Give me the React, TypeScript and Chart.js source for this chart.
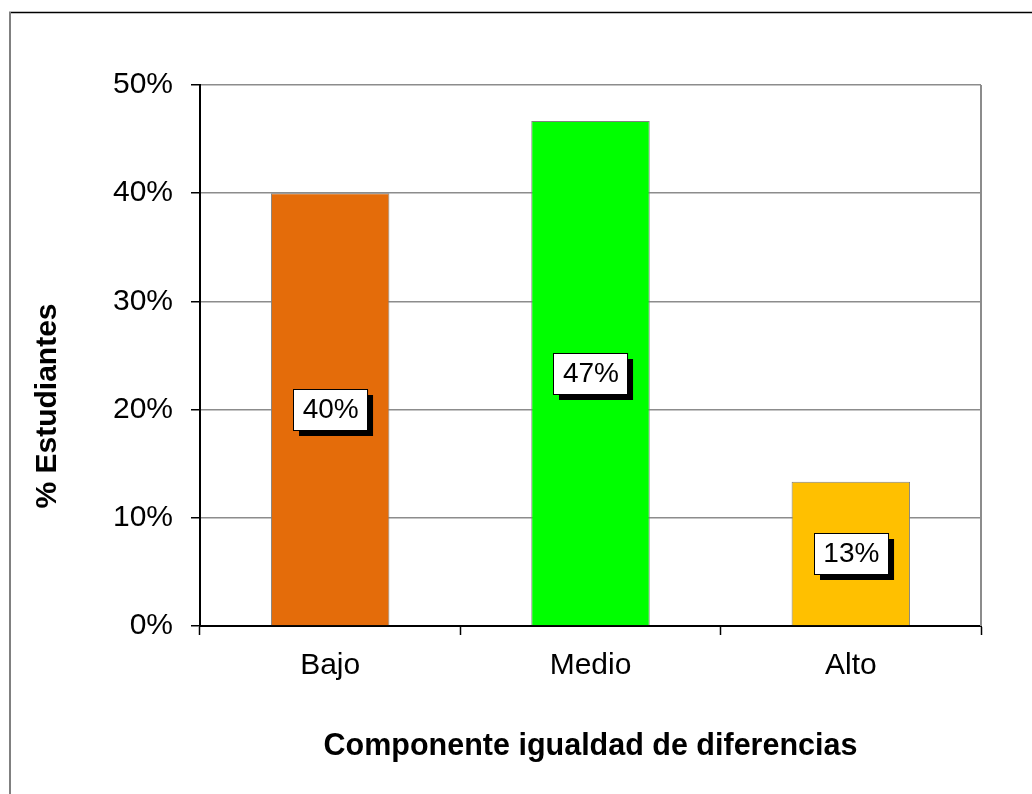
import React, { useEffect, useRef } from "react";
import { Chart, registerables } from "chart.js";

Chart.register(...registerables);

const categories = ["Bajo", "Medio", "Alto"];
const values = [0.4, 0.4667, 0.1333];
const barColors = ["#E46C0A", "#00FF00", "#FFC000"];
const yTicks = [0, 0.1, 0.2, 0.3, 0.4, 0.5];
const xTitle = "Componente igualdad de diferencias";
const yTitle = "% Estudiantes";

const FONT = "'Liberation Sans', Arial, sans-serif";

const framePlugin = {
  id: "frame",
  afterDraw(chart: any) {
    const ctx = chart.ctx;
    const a = chart.chartArea;
    ctx.save();
    // outer frame
    ctx.strokeStyle = "#000";
    ctx.lineWidth = 1.5;
    ctx.beginPath();
    ctx.moveTo(9, 12.5);
    ctx.lineTo(1032, 12.5);
    ctx.stroke();
    ctx.strokeStyle = "#808080";
    ctx.lineWidth = 2;
    ctx.beginPath();
    ctx.moveTo(10, 12);
    ctx.lineTo(10, 794);
    ctx.stroke();
    // right plot border
    ctx.strokeStyle = "#8c8c8c";
    ctx.lineWidth = 2;
    ctx.beginPath();
    ctx.moveTo(a.right, a.top);
    ctx.lineTo(a.right, a.bottom);
    ctx.stroke();
    // y axis title, centred on the whole chart frame
    ctx.translate(48, 406);
    ctx.rotate(-Math.PI / 2);
    ctx.font = `bold 30px ${FONT}`;
    ctx.fillStyle = "#000";
    ctx.textAlign = "center";
    ctx.textBaseline = "middle";
    ctx.fillText(yTitle, 0, 0);
    ctx.restore();
  },
};

const labelPlugin = {
  id: "boxLabels",
  afterDatasetsDraw(chart: any) {
    const ctx = chart.ctx;
    const meta = chart.getDatasetMeta(0);
    ctx.save();
    ctx.font = `28px ${FONT}`;
    ctx.textAlign = "center";
    ctx.textBaseline = "middle";
    meta.data.forEach((bar: any, i: number) => {
      const v = chart.data.datasets[0].data[i] as number;
      const text = Math.round(v * 100) + "%";
      const w = ctx.measureText(text).width + 18;
      const h = 41;
      const cx = bar.x;
      const cy = (bar.y + bar.base) / 2;
      const x0 = Math.round(cx - w / 2);
      const y0 = Math.round(cy - h / 2);
      ctx.fillStyle = "#000";
      ctx.fillRect(x0 + 6, y0 + 6, w, h);
      ctx.fillStyle = "#fff";
      ctx.fillRect(x0, y0, w, h);
      ctx.strokeStyle = "#000";
      ctx.lineWidth = 1;
      ctx.strokeRect(x0 + 0.5, y0 + 0.5, w, h);
      ctx.fillStyle = "#000";
      ctx.fillText(text, cx + 0.5, cy + 1);
    });
    ctx.restore();
  },
};

export default function App() {
  const ref = useRef<HTMLCanvasElement>(null);
  useEffect(() => {
    const chart = new Chart(ref.current!, {
      type: "bar",
      data: {
        labels: categories,
        datasets: [
          {
            data: values,
            backgroundColor: barColors,
            borderColor: "#808080",
            borderWidth: 1,
            barPercentage: 0.455,
            categoryPercentage: 1,
          },
        ],
      },
      options: {
        animation: false,
        responsive: false,
        layout: { padding: { left: 0, top: 85, right: 51, bottom: 0 } },
        plugins: { legend: { display: false }, tooltip: { enabled: false } },
        scales: {
          x: {
            afterFit(scale: any) {
              scale.height = 168;
            },
            grid: {
              drawOnChartArea: false,
              tickLength: 9,
              tickColor: "#000",
              tickWidth: 1.5,
              offset: true,
            },
            border: { color: "#000", width: 2 },
            ticks: {
              color: "#000",
              padding: 13,
              font: { family: FONT, size: 30 },
            },
            title: {
              display: true,
              text: xTitle,
              color: "#000",
              font: { family: FONT, size: 30.5, weight: "bold" },
              padding: { top: 0, bottom: 29 },
            },
          },
          y: {
            min: 0,
            max: 0.5,
            afterFit(scale: any) {
              scale.width = 200;
            },
            afterBuildTicks(scale: any) {
              scale.ticks = yTicks.map((v) => ({ value: v }));
            },
            grid: {
              color: "#8c8c8c",
              lineWidth: 1.5,
              tickLength: 9,
              tickColor: "#000",
              tickWidth: 1.5,
            },
            border: { color: "#000", width: 2 },
            ticks: {
              color: "#000",
              padding: 18,
              font: { family: FONT, size: 30 },
              callback: (v: any) => Math.round(Number(v) * 100) + "%",
            },
          },
        },
      },
      plugins: [framePlugin, labelPlugin],
    });
    return () => chart.destroy();
  }, []);
  return (
    <div style={{ position: "absolute", left: 0, top: 0, width: 1032, height: 794, background: "#fff" }}>
      <canvas ref={ref} width={1032} height={794} style={{ display: "block" }} />
    </div>
  );
}
